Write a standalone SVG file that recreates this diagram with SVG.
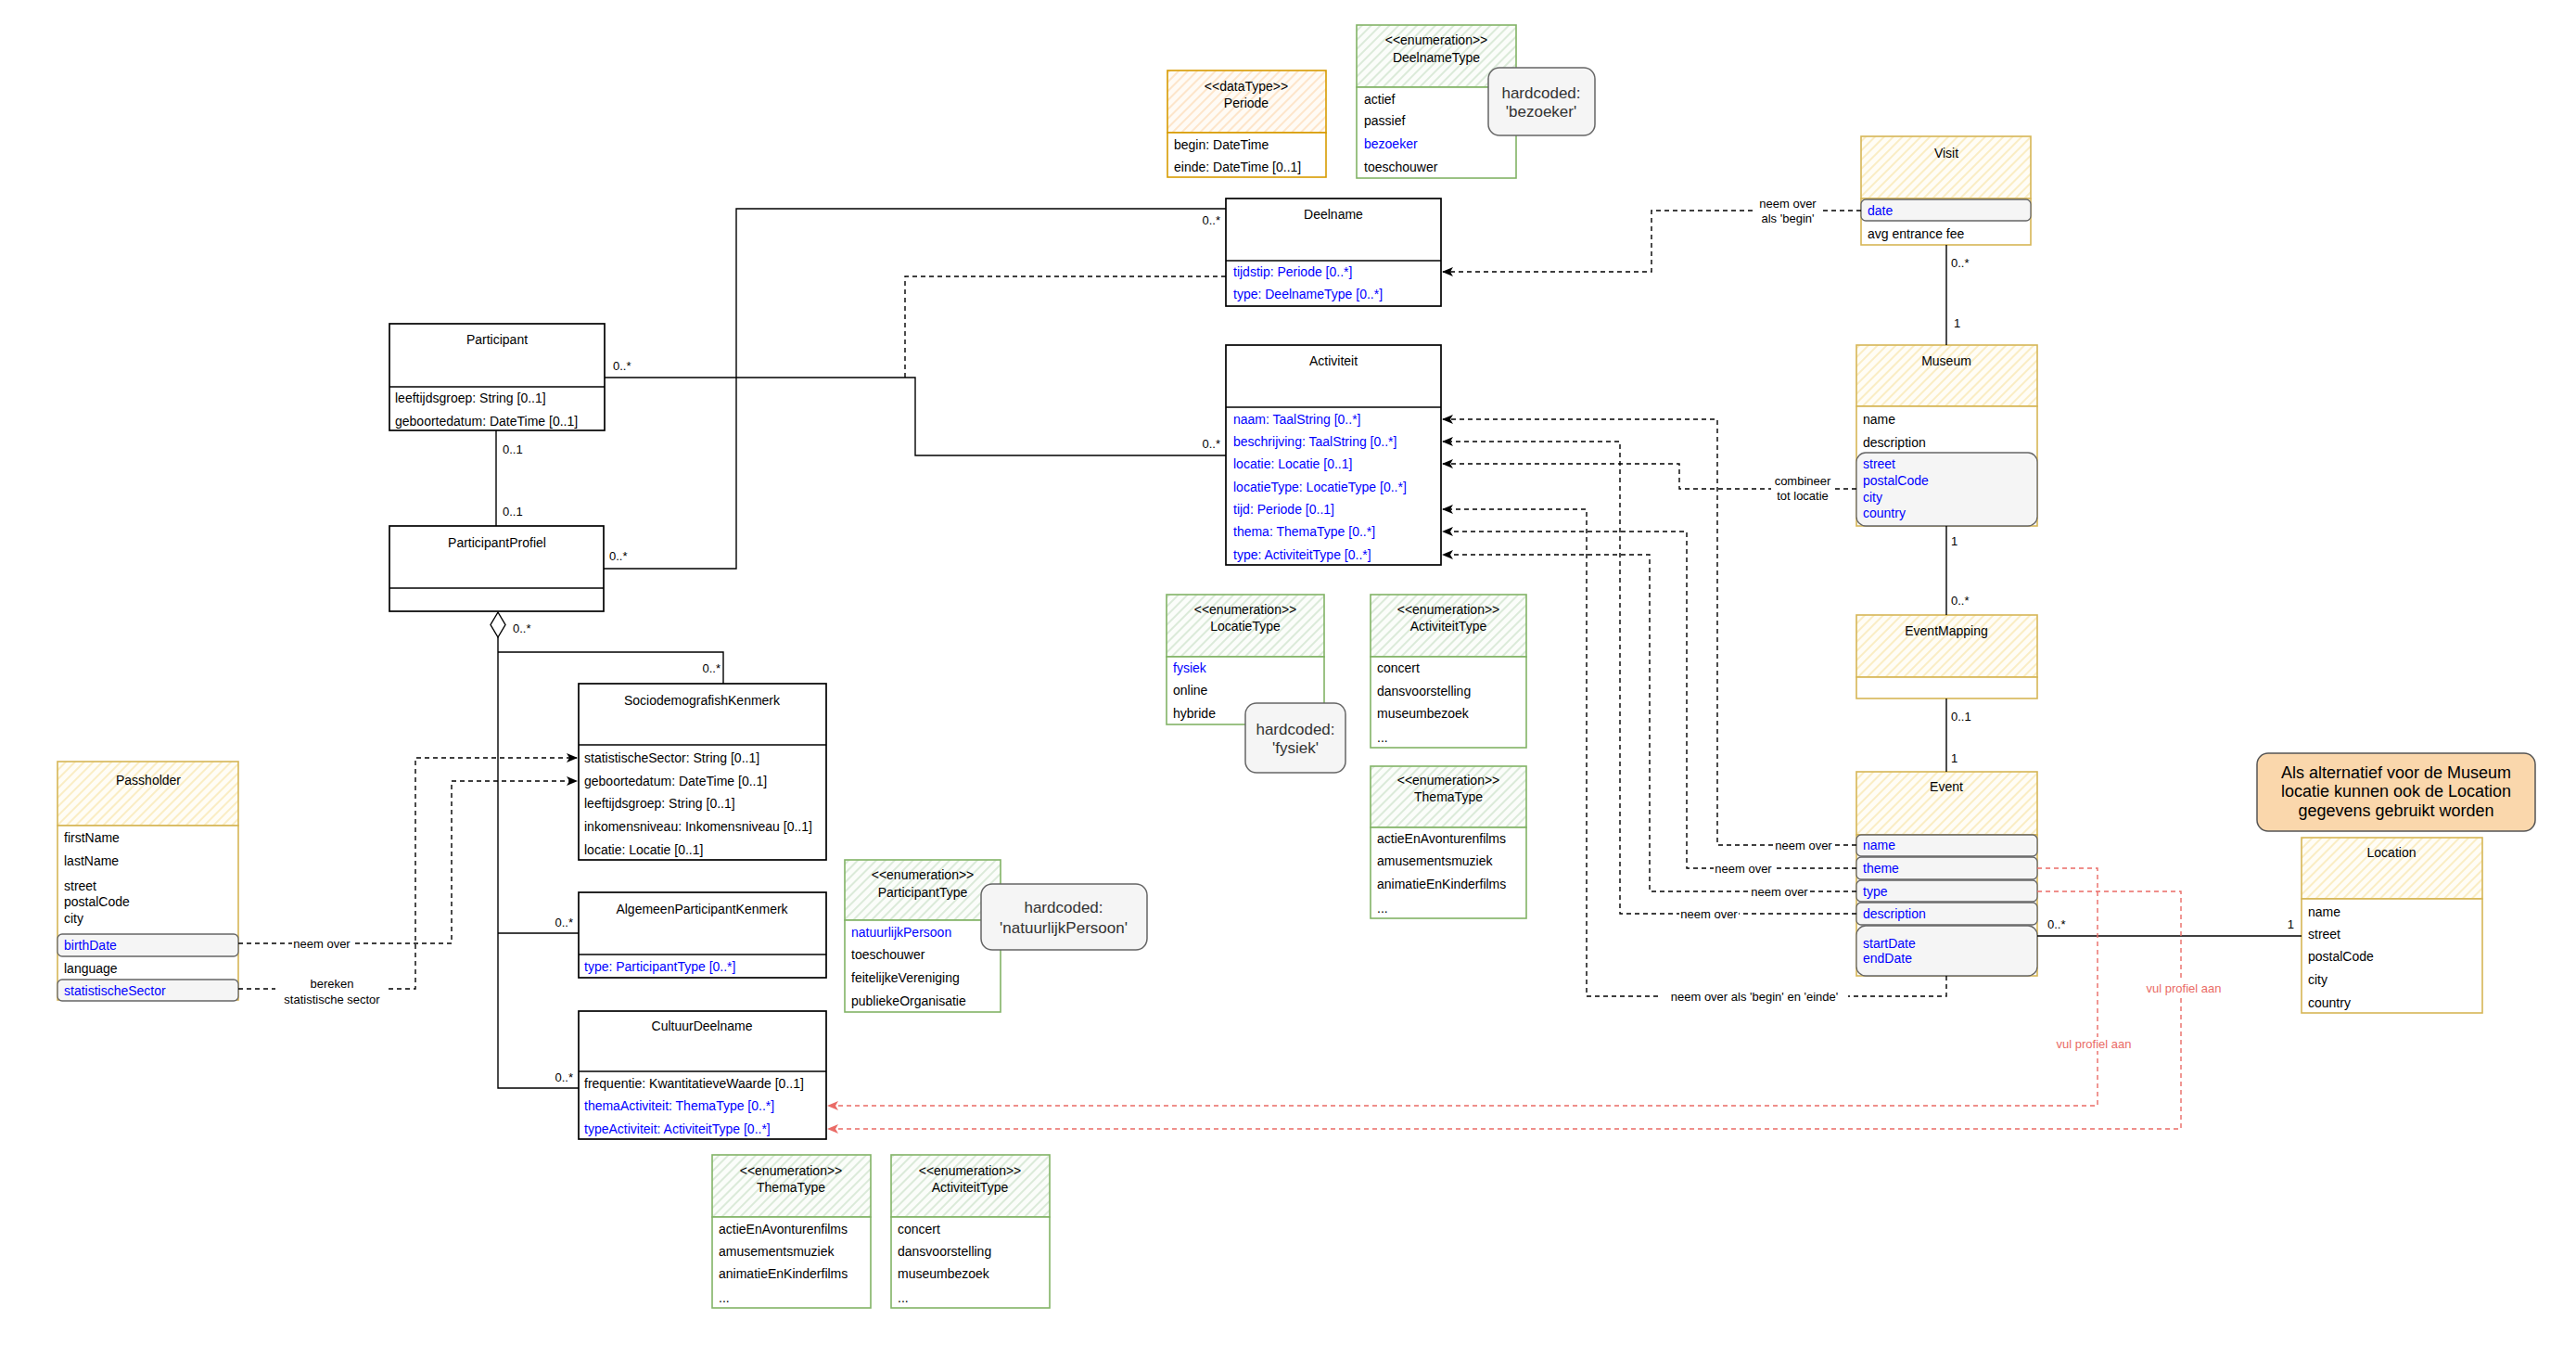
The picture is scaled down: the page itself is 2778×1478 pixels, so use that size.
<svg xmlns="http://www.w3.org/2000/svg" width="2778" height="1478" viewBox="0 0 2778 1478">
<defs>
<pattern id="hy" patternUnits="userSpaceOnUse" width="7" height="7" patternTransform="rotate(45)">
<rect width="7" height="7" fill="#fffdf6"/>
<line x1="1" y1="0" x2="1" y2="7" stroke="#f9eab8" stroke-width="1.6"/>
</pattern>
<pattern id="hg" patternUnits="userSpaceOnUse" width="7" height="7" patternTransform="rotate(45)">
<rect width="7" height="7" fill="#fbfdfa"/>
<line x1="1" y1="0" x2="1" y2="7" stroke="#d3e6d1" stroke-width="1.6"/>
</pattern>
<pattern id="ho" patternUnits="userSpaceOnUse" width="7" height="7" patternTransform="rotate(45)">
<rect width="7" height="7" fill="#fffbf5"/>
<line x1="1" y1="0" x2="1" y2="7" stroke="#fde0c0" stroke-width="1.6"/>
</pattern>
<marker id="ak" viewBox="0 0 12 10" refX="11" refY="5" markerWidth="12" markerHeight="10" markerUnits="userSpaceOnUse" orient="auto">
<path d="M0,0 L12,5 L0,10 L3,5 Z" fill="#000"/>
</marker>
<marker id="ar" viewBox="0 0 12 10" refX="11" refY="5" markerWidth="12" markerHeight="10" markerUnits="userSpaceOnUse" orient="auto">
<path d="M0,0 L12,5 L0,10 L3,5 Z" fill="#ea6b66"/>
</marker>
<style>
text{font-family:"Liberation Sans",Arial,sans-serif;font-size:14px;fill:#000;dominant-baseline:central}
.c{text-anchor:middle}
.e{text-anchor:end}
.bl{fill:#0000ff}
.lb{font-size:13px}
.rd{fill:#ea6b66}
.nt{font-size:17px;fill:#333}
.blk{fill:#fff;stroke:#000;stroke-width:1.7}
.dv{stroke:#000;stroke-width:1.6}
.yh{fill:url(#hy);stroke:#d6b656;stroke-width:1.6}
.yb{fill:#fff;stroke:#d6b656;stroke-width:1.6}
.gh{fill:url(#hg);stroke:#82b366;stroke-width:1.6}
.gb{fill:#fff;stroke:#82b366;stroke-width:1.6}
.oh{fill:url(#ho);stroke:#d79b00;stroke-width:1.6}
.ob{fill:#fff;stroke:#d79b00;stroke-width:1.6}
.hl{fill:#f5f5f5;stroke:#666;stroke-width:1.3}
.note{fill:#f5f5f5;stroke:#666;stroke-width:1.5}
.sl{fill:none;stroke:#000;stroke-width:1.4}
.dl{fill:none;stroke:#000;stroke-width:1.4;stroke-dasharray:5 4}
.rl{fill:none;stroke:#ea6b66;stroke-width:1.4;stroke-dasharray:5 4}
.wb{fill:#fff}
</style>
</defs>
<rect width="2778" height="1478" fill="#fff"/>

<!-- Nodes -->
<g id="periode">
<rect class="oh" x="1259" y="76" width="171" height="67"/>
<rect class="ob" x="1259" y="143" width="171" height="48"/>
<text class="c" x="1344" y="93">&lt;&lt;dataType&gt;&gt;</text>
<text class="c" x="1344" y="111">Periode</text>
<text x="1266" y="156">begin: DateTime</text>
<text x="1266" y="180">einde: DateTime [0..1]</text>
</g>

<g id="deelnametype">
<rect class="gh" x="1463" y="27" width="172" height="67"/>
<rect class="gb" x="1463" y="94" width="172" height="98"/>
<text class="c" x="1549" y="43">&lt;&lt;enumeration&gt;&gt;</text>
<text class="c" x="1549" y="62">DeelnameType</text>
<text x="1471" y="107">actief</text>
<text x="1471" y="130">passief</text>
<text class="bl" x="1471" y="155">bezoeker</text>
<text x="1471" y="180">toeschouwer</text>
</g>
<g id="note-bezoeker">
<rect class="note" x="1605" y="73" width="115" height="73" rx="12"/>
<text class="c nt" x="1662" y="100">hardcoded:</text>
<text class="c nt" x="1662" y="120">'bezoeker'</text>
</g>

<g id="deelname">
<rect class="blk" x="1322" y="214" width="232" height="116"/>
<line class="dv" x1="1322" y1="281" x2="1554" y2="281"/>
<text class="c" x="1438" y="231">Deelname</text>
<text class="bl" x="1330" y="293">tijdstip: Periode [0..*]</text>
<text class="bl" x="1330" y="317">type: DeelnameType [0..*]</text>
</g>

<g id="activiteit">
<rect class="blk" x="1322" y="372" width="232" height="237"/>
<line class="dv" x1="1322" y1="439" x2="1554" y2="439"/>
<text class="c" x="1438" y="389">Activiteit</text>
<text class="bl" x="1330" y="452">naam: TaalString [0..*]</text>
<text class="bl" x="1330" y="476">beschrijving: TaalString [0..*]</text>
<text class="bl" x="1330" y="500">locatie: Locatie [0..1]</text>
<text class="bl" x="1330" y="525">locatieType: LocatieType [0..*]</text>
<text class="bl" x="1330" y="549">tijd: Periode [0..1]</text>
<text class="bl" x="1330" y="573">thema: ThemaType [0..*]</text>
<text class="bl" x="1330" y="598">type: ActiviteitType [0..*]</text>
</g>

<g id="participant">
<rect class="blk" x="420" y="349" width="232" height="115"/>
<line class="dv" x1="420" y1="417" x2="652" y2="417"/>
<text class="c" x="536" y="366">Participant</text>
<text x="426" y="429">leeftijdsgroep: String [0..1]</text>
<text x="426" y="454">geboortedatum: DateTime [0..1]</text>
</g>

<g id="participantprofiel">
<rect class="blk" x="420" y="567" width="231" height="92"/>
<line class="dv" x1="420" y1="634" x2="651" y2="634"/>
<text class="c" x="536" y="585">ParticipantProfiel</text>
</g>

<g id="sociodemografishkenmerk">
<rect class="blk" x="624" y="737" width="267" height="190"/>
<line class="dv" x1="624" y1="803" x2="891" y2="803"/>
<text class="c" x="757" y="755">SociodemografishKenmerk</text>
<text x="630" y="817">statistischeSector: String [0..1]</text>
<text x="630" y="842">geboortedatum: DateTime [0..1]</text>
<text x="630" y="866">leeftijdsgroep: String [0..1]</text>
<text x="630" y="891">inkomensniveau: Inkomensniveau [0..1]</text>
<text x="630" y="916">locatie: Locatie [0..1]</text>
</g>

<g id="algemeenparticipantkenmerk">
<rect class="blk" x="624" y="962" width="267" height="92"/>
<line class="dv" x1="624" y1="1029" x2="891" y2="1029"/>
<text class="c" x="757" y="980">AlgemeenParticipantKenmerk</text>
<text class="bl" x="630" y="1042">type: ParticipantType [0..*]</text>
</g>

<g id="cultuurdeelname">
<rect class="blk" x="624" y="1090" width="267" height="138"/>
<line class="dv" x1="624" y1="1155" x2="891" y2="1155"/>
<text class="c" x="757" y="1106">CultuurDeelname</text>
<text x="630" y="1168">frequentie: KwantitatieveWaarde [0..1]</text>
<text class="bl" x="630" y="1192">themaActiviteit: ThemaType [0..*]</text>
<text class="bl" x="630" y="1217">typeActiviteit: ActiviteitType [0..*]</text>
</g>

<g id="participanttype">
<rect class="gh" x="911" y="927" width="168" height="65"/>
<rect class="gb" x="911" y="992" width="168" height="99"/>
<text class="c" x="995" y="943">&lt;&lt;enumeration&gt;&gt;</text>
<text class="c" x="995" y="962">ParticipantType</text>
<text class="bl" x="918" y="1005">natuurlijkPersoon</text>
<text x="918" y="1029">toeschouwer</text>
<text x="918" y="1054">feitelijkeVereniging</text>
<text x="918" y="1079">publiekeOrganisatie</text>
</g>
<g id="note-natuurlijkpersoon">
<rect class="note" x="1058" y="953" width="179" height="71" rx="12"/>
<text class="c nt" x="1147" y="978">hardcoded:</text>
<text class="c nt" x="1147" y="1000">'natuurlijkPersoon'</text>
</g>

<g id="locatietype">
<rect class="gh" x="1258" y="641" width="170" height="67"/>
<rect class="gb" x="1258" y="708" width="170" height="73"/>
<text class="c" x="1343" y="657">&lt;&lt;enumeration&gt;&gt;</text>
<text class="c" x="1343" y="675">LocatieType</text>
<text class="bl" x="1265" y="720">fysiek</text>
<text x="1265" y="744">online</text>
<text x="1265" y="769">hybride</text>
</g>
<g id="note-fysiek">
<rect class="note" x="1343" y="758" width="108" height="75" rx="12"/>
<text class="c nt" x="1397" y="786">hardcoded:</text>
<text class="c nt" x="1397" y="806">'fysiek'</text>
</g>

<g id="activiteittype-1">
<rect class="gh" x="1478" y="641" width="168" height="67"/>
<rect class="gb" x="1478" y="708" width="168" height="98"/>
<text class="c" x="1562" y="657">&lt;&lt;enumeration&gt;&gt;</text>
<text class="c" x="1562" y="675">ActiviteitType</text>
<text x="1485" y="720">concert</text>
<text x="1485" y="745">dansvoorstelling</text>
<text x="1485" y="769">museumbezoek</text>
<text x="1485" y="795">...</text>
</g>

<g id="thematype-1">
<rect class="gh" x="1478" y="826" width="168" height="66"/>
<rect class="gb" x="1478" y="892" width="168" height="98"/>
<text class="c" x="1562" y="841">&lt;&lt;enumeration&gt;&gt;</text>
<text class="c" x="1562" y="859">ThemaType</text>
<text x="1485" y="904">actieEnAvonturenfilms</text>
<text x="1485" y="928">amusementsmuziek</text>
<text x="1485" y="953">animatieEnKinderfilms</text>
<text x="1485" y="979">...</text>
</g>

<g id="thematype-2">
<rect class="gh" x="768" y="1245" width="171" height="67"/>
<rect class="gb" x="768" y="1312" width="171" height="98"/>
<text class="c" x="853" y="1262">&lt;&lt;enumeration&gt;&gt;</text>
<text class="c" x="853" y="1280">ThemaType</text>
<text x="775" y="1325">actieEnAvonturenfilms</text>
<text x="775" y="1349">amusementsmuziek</text>
<text x="775" y="1373">animatieEnKinderfilms</text>
<text x="775" y="1399">...</text>
</g>

<g id="activiteittype-2">
<rect class="gh" x="961" y="1245" width="171" height="67"/>
<rect class="gb" x="961" y="1312" width="171" height="98"/>
<text class="c" x="1046" y="1262">&lt;&lt;enumeration&gt;&gt;</text>
<text class="c" x="1046" y="1280">ActiviteitType</text>
<text x="968" y="1325">concert</text>
<text x="968" y="1349">dansvoorstelling</text>
<text x="968" y="1373">museumbezoek</text>
<text x="968" y="1399">...</text>
</g>

<g id="passholder">
<rect class="yh" x="62" y="821" width="195" height="69"/>
<rect class="yb" x="62" y="890" width="195" height="188"/>
<text class="c" x="160" y="841">Passholder</text>
<text x="69" y="903">firstName</text>
<text x="69" y="928">lastName</text>
<text x="69" y="955">street</text>
<text x="69" y="972">postalCode</text>
<text x="69" y="990">city</text>
<rect class="hl" x="62" y="1007" width="195" height="24" rx="5"/>
<text class="bl" x="69" y="1019">birthDate</text>
<text x="69" y="1044">language</text>
<rect class="hl" x="62" y="1056" width="195" height="23" rx="5"/>
<text class="bl" x="69" y="1068">statistischeSector</text>
</g>

<g id="visit">
<rect class="yh" x="2007" y="147" width="183" height="67"/>
<rect class="yb" x="2007" y="214" width="183" height="50"/>
<text class="c" x="2099" y="165">Visit</text>
<rect class="hl" x="2007" y="215" width="183" height="23" rx="5"/>
<text class="bl" x="2014" y="227">date</text>
<text x="2014" y="252">avg entrance fee</text>
</g>

<g id="museum">
<rect class="yh" x="2002" y="372" width="195" height="66"/>
<rect class="yb" x="2002" y="438" width="195" height="129"/>
<text class="c" x="2099" y="389">Museum</text>
<text x="2009" y="452">name</text>
<text x="2009" y="477">description</text>
<rect class="hl" x="2002" y="488" width="195" height="79" rx="10"/>
<text class="bl" x="2009" y="500">street</text>
<text class="bl" x="2009" y="518">postalCode</text>
<text class="bl" x="2009" y="536">city</text>
<text class="bl" x="2009" y="553">country</text>
</g>

<g id="eventmapping">
<rect class="yh" x="2002" y="663" width="195" height="67"/>
<rect class="yb" x="2002" y="730" width="195" height="23"/>
<text class="c" x="2099" y="680">EventMapping</text>
</g>

<g id="event">
<rect class="yh" x="2002" y="832" width="195" height="68"/>
<rect class="yb" x="2002" y="900" width="195" height="152"/>
<text class="c" x="2099" y="848">Event</text>
<rect class="hl" x="2002" y="900" width="195" height="23" rx="5"/>
<text class="bl" x="2009" y="911">name</text>
<rect class="hl" x="2002" y="924" width="195" height="24" rx="5"/>
<text class="bl" x="2009" y="936">theme</text>
<rect class="hl" x="2002" y="949" width="195" height="23" rx="5"/>
<text class="bl" x="2009" y="961">type</text>
<rect class="hl" x="2002" y="973" width="195" height="24" rx="5"/>
<text class="bl" x="2009" y="985">description</text>
<rect class="hl" x="2002" y="998" width="195" height="54" rx="10"/>
<text class="bl" x="2009" y="1017">startDate</text>
<text class="bl" x="2009" y="1033">endDate</text>
</g>

<g id="location">
<rect class="yh" x="2482" y="903" width="195" height="66"/>
<rect class="yb" x="2482" y="969" width="195" height="123"/>
<text class="c" x="2579" y="919">Location</text>
<text x="2489" y="983">name</text>
<text x="2489" y="1007">street</text>
<text x="2489" y="1031">postalCode</text>
<text x="2489" y="1056">city</text>
<text x="2489" y="1081">country</text>
</g>

<g id="note-location">
<rect x="2434" y="812" width="300" height="84" rx="12" fill="#fad7ac" stroke="#555" stroke-width="1.5"/>
<text class="c" x="2584" y="833" style="font-size:18px">Als alternatief voor de Museum</text>
<text class="c" x="2584" y="853" style="font-size:18px">locatie kunnen ook de Location</text>
<text class="c" x="2584" y="874" style="font-size:18px">gegevens gebruikt worden</text>
</g>

<!-- Connectors -->
<g id="connectors">
<path class="sl" d="M535,464 V567"/>
<text class="lb" x="542" y="484">0..1</text>
<text class="lb" x="542" y="551">0..1</text>

<path class="sl" d="M652,407 H987 V491 H1322"/>
<text class="lb" x="661" y="394">0..*</text>
<text class="lb e" x="1316" y="478">0..*</text>

<path class="sl" d="M651,613 H794 V225 H1322"/>
<text class="lb" x="657" y="599">0..*</text>
<text class="lb e" x="1316" y="237">0..*</text>

<path class="dl" d="M1322,298 H976 V407"/>

<path d="M537,660 L545,673.5 L537,687 L529,673.5 Z" fill="#fff" stroke="#000" stroke-width="1.4"/>
<path class="sl" d="M537,687 V1173 H624"/>
<path class="sl" d="M537,703 H780 V737"/>
<path class="sl" d="M537,1006 H624"/>
<text class="lb" x="553" y="677">0..*</text>
<text class="lb e" x="777" y="720">0..*</text>
<text class="lb e" x="618" y="994">0..*</text>
<text class="lb e" x="618" y="1161">0..*</text>

<path class="sl" d="M2099,264 V372"/>
<text class="lb" x="2104" y="283">0..*</text>
<text class="lb" x="2107" y="348">1</text>
<path class="sl" d="M2099,567 V663"/>
<text class="lb" x="2104" y="583">1</text>
<text class="lb" x="2104" y="647">0..*</text>
<path class="sl" d="M2099,753 V832"/>
<text class="lb" x="2104" y="772">0..1</text>
<text class="lb" x="2104" y="817">1</text>
<path class="sl" d="M2197,1009 H2482"/>
<text class="lb" x="2208" y="996">0..*</text>
<text class="lb e" x="2474" y="996">1</text>

<path class="dl" d="M2007,227 H1781 V293 H1556" marker-end="url(#ak)"/>
<rect class="wb" x="1892" y="211" width="72" height="32"/>
<text class="lb c" x="1928" y="219">neem over</text>
<text class="lb c" x="1928" y="235">als 'begin'</text>

<path class="dl" d="M2002,911 H1852 V452 H1556" marker-end="url(#ak)"/>
<path class="dl" d="M2002,936 H1819 V573 H1556" marker-end="url(#ak)"/>
<path class="dl" d="M2002,961 H1779 V598 H1556" marker-end="url(#ak)"/>
<path class="dl" d="M2002,985 H1747 V476 H1556" marker-end="url(#ak)"/>
<path class="dl" d="M2099,1052 V1074 H1711 V549 H1556" marker-end="url(#ak)"/>
<path class="dl" d="M2002,527 H1811 V500 H1556" marker-end="url(#ak)"/>
<rect class="wb" x="1913" y="904" width="64" height="15"/>
<text class="lb c" x="1945" y="911">neem over</text>
<rect class="wb" x="1848" y="929" width="64" height="15"/>
<text class="lb c" x="1880" y="936">neem over</text>
<rect class="wb" x="1887" y="954" width="64" height="15"/>
<text class="lb c" x="1919" y="961">neem over</text>
<rect class="wb" x="1811" y="978" width="64" height="15"/>
<text class="lb c" x="1843" y="985">neem over</text>
<rect class="wb" x="1791" y="1067" width="202" height="15"/>
<text class="lb c" x="1892" y="1074">neem over als 'begin' en 'einde'</text>
<rect class="wb" x="1910" y="511" width="68" height="31"/>
<text class="lb c" x="1944" y="518">combineer</text>
<text class="lb c" x="1944" y="534">tot locatie</text>

<path class="dl" d="M257,1017 H487 V842 H622" marker-end="url(#ak)"/>
<path class="dl" d="M257,1066 H448 V817 H622" marker-end="url(#ak)"/>
<rect class="wb" x="315" y="1010" width="64" height="15"/>
<text class="lb c" x="347" y="1017">neem over</text>
<rect class="wb" x="297" y="1052" width="121" height="32"/>
<text class="lb c" x="358" y="1060">bereken</text>
<text class="lb c" x="358" y="1077">statistische sector</text>

<path class="rl" d="M2197,936 H2262 V1192 H893" marker-end="url(#ar)"/>
<path class="rl" d="M2197,961 H2352 V1217 H893" marker-end="url(#ar)"/>
<rect class="wb" x="2212" y="1118" width="92" height="15"/>
<text class="lb c rd" x="2258" y="1125">vul profiel aan</text>
<rect class="wb" x="2309" y="1058" width="92" height="15"/>
<text class="lb c rd" x="2355" y="1065">vul profiel aan</text>
</g>
</svg>
